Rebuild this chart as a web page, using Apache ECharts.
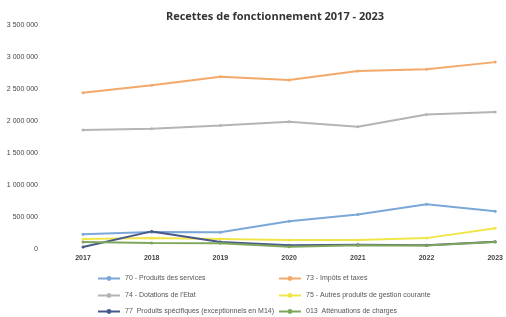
<!DOCTYPE html>
<html>
<head>
<meta charset="utf-8">
<script src="https://cdn.jsdelivr.net/npm/echarts@6/dist/echarts.min.js"></script>
<style>
  html, body { margin: 0; padding: 0; background: #fff; }
  #main { width: 506px; height: 317px; }
</style>
</head>
<body>
<div id="main"></div>
<script>
// années
var years = ['2017', '2018', '2019', '2020', '2021', '2022', '2023'];
// séries (euros)
var produitsServices = [232000, 265000, 262000, 435000, 540000, 700000, 590000];
var impotsTaxes = [2440000, 2560000, 2690000, 2640000, 2780000, 2810000, 2920000];
var dotationsEtat = [1860000, 1880000, 1930000, 1990000, 1910000, 2100000, 2140000];
var autresProduits = [155000, 170000, 155000, 140000, 140000, 170000, 325000];
var produitsSpecifiques = [30000, 275000, 110000, 60000, 65000, 60000, 115000];
var attenuations = [110000, 95000, 90000, 35000, 60000, 55000, 110000];

var names = ['70 - Produits des services', '73 - Impôts et taxes', "74 - Dotations de l'Etat",
  '75 - Autres produits de gestion courante', '77  Produits spécifiques (exceptionnels en M14)',
  '013  Atténuations de charges'];
var colors = ['#7BA7D9', '#F3A96A', '#B4B4B4', '#F0E64A', '#46598A', '#7FA65A'];
var values = [produitsServices, impotsTaxes, dotationsEtat, autresProduits, produitsSpecifiques, attenuations];

var series = [];
for (var i = 0; i < names.length; i++) {
    series.push({
        name: names[i],
        type: 'line',
        data: values[i],
        symbol: 'circle',
        symbolSize: 3,
        lineStyle: { width: 2, color: colors[i] },
        itemStyle: { color: colors[i] }
    });
}

function fmt(v) {
    return String(v).replace(/\B(?=(\d{3})+(?!\d))/g, ' ');
}

// une légende par entrée : 2 colonnes, 3 lignes
var legendPos = [[92, 270], [273, 270], [92, 287], [273, 287], [92, 303], [273, 303]];
var legends = [];
for (var i = 0; i < names.length; i++) {
    legends.push({
        left: legendPos[i][0], top: legendPos[i][1],
        itemWidth: 22, itemHeight: 6,
        data: [names[i]],
        textStyle: { fontSize: 7, color: '#555', fontFamily: 'Liberation Sans' }
    });
}

var myChart = echarts.init(document.getElementById('main'));
var option = {
    animation: false,
    backgroundColor: '#fff',
    title: {
        text: 'Recettes de fonctionnement 2017 - 2023',
        left: 270,
        textAlign: 'center',
        top: 6,
        textStyle: { fontSize: 11, fontWeight: 'bold', color: '#333', fontFamily: 'Open Sans' }
    },
    legend: legends,
    grid: { left: 83, right: 9, top: 25, bottom: 68 },
    xAxis: {
        type: 'category',
        data: years,
        boundaryGap: false,
        axisLine: { show: false },
        axisTick: { show: false },
        axisLabel: { fontSize: 7, color: '#444', fontWeight: 'bold', margin: 6, fontFamily: 'Liberation Sans' }
    },
    yAxis: {
        type: 'value',
        min: 0,
        max: 3500000,
        interval: 500000,
        axisLine: { show: false },
        axisTick: { show: false },
        splitLine: { show: false },
        axisLabel: { fontSize: 7, color: '#444', margin: 45, formatter: fmt, fontFamily: 'Liberation Sans' }
    },
    series: series
};
myChart.setOption(option);
</script>
</body>
</html>
